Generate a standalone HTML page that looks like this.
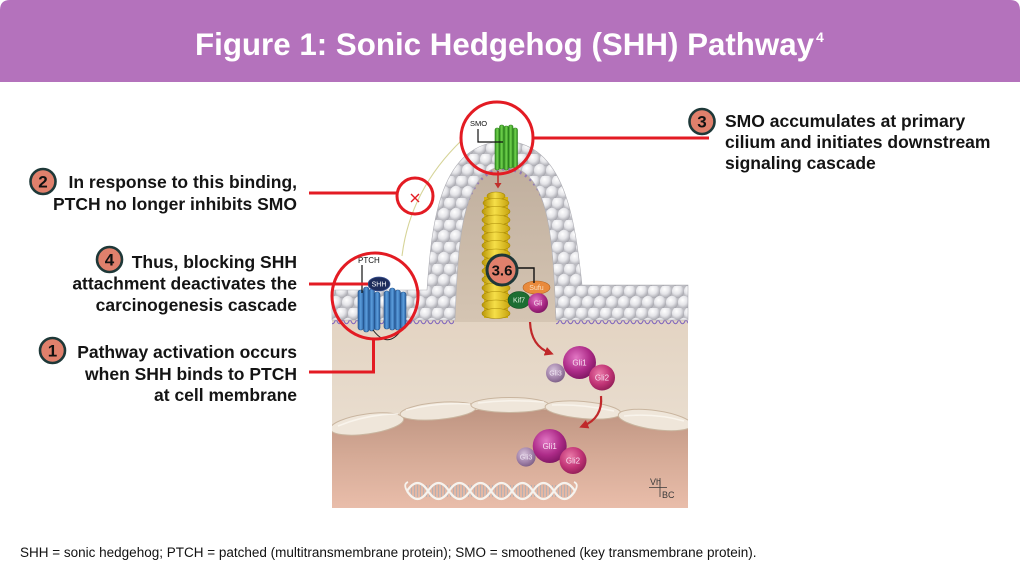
<!DOCTYPE html>
<html>
<head>
<meta charset="utf-8">
<style>
html,body{margin:0;padding:0;background:#fff;}
body{width:1020px;height:576px;overflow:hidden;}
svg{display:block;}
</style>
</head>
<body>
<svg width="1020" height="576" viewBox="0 0 1020 576" xmlns="http://www.w3.org/2000/svg" font-family="'Liberation Sans', Arial, sans-serif">
<defs>
  <linearGradient id="cyto" x1="0" y1="0" x2="0" y2="1">
    <stop offset="0" stop-color="#e2d2c0"/>
    <stop offset="1" stop-color="#ede4d8"/>
  </linearGradient>
  <linearGradient id="cil" x1="0" y1="0" x2="0" y2="1">
    <stop offset="0" stop-color="#bfae9d"/>
    <stop offset="1" stop-color="#d5c5b3"/>
  </linearGradient>
  <linearGradient id="nuc" x1="0" y1="0" x2="0" y2="1">
    <stop offset="0" stop-color="#bf9582"/>
    <stop offset="0.5" stop-color="#d6ab97"/>
    <stop offset="1" stop-color="#e9bdaa"/>
  </linearGradient>
  <radialGradient id="ballg" cx="0.38" cy="0.32" r="0.75">
    <stop offset="0" stop-color="#ffffff"/>
    <stop offset="0.5" stop-color="#e4e4e8"/>
    <stop offset="1" stop-color="#9a9aa2"/>
  </radialGradient>
  <pattern id="balls" width="12" height="22" patternUnits="userSpaceOnUse">
    <rect width="12" height="22" fill="#bcbcc2"/>
    <ellipse cx="6" cy="5.5" rx="6.1" ry="6.6" fill="url(#ballg)"/>
    <ellipse cx="0" cy="16.5" rx="6.1" ry="6.6" fill="url(#ballg)"/>
    <ellipse cx="12" cy="16.5" rx="6.1" ry="6.6" fill="url(#ballg)"/>
  </pattern>
  <pattern id="tails" x="0" y="318" width="7" height="9" patternUnits="userSpaceOnUse">
    <path d="M0 0.5 Q3.5 11 7 0.5" fill="none" stroke="#7d62bd" stroke-width="1.1"/>
  </pattern>
  <pattern id="rungs" width="3" height="20" patternUnits="userSpaceOnUse" x="407">
    <rect x="1" y="0" width="0.9" height="20" fill="#a8aeb8"/>
  </pattern>
  <linearGradient id="yel" x1="0" y1="0" x2="1" y2="0">
    <stop offset="0" stop-color="#b8950a"/>
    <stop offset="0.45" stop-color="#f6df48"/>
    <stop offset="1" stop-color="#c6a20e"/>
  </linearGradient>
  <linearGradient id="grn" x1="0" y1="0" x2="1" y2="0">
    <stop offset="0" stop-color="#2f8a1f"/>
    <stop offset="0.5" stop-color="#6fd24c"/>
    <stop offset="1" stop-color="#2f8a1f"/>
  </linearGradient>
  <linearGradient id="blu" x1="0" y1="0" x2="1" y2="0">
    <stop offset="0" stop-color="#2b62a3"/>
    <stop offset="0.5" stop-color="#5b9ddc"/>
    <stop offset="1" stop-color="#2b62a3"/>
  </linearGradient>
  <radialGradient id="gli1" cx="0.4" cy="0.35" r="0.7">
    <stop offset="0" stop-color="#e277c4"/>
    <stop offset="0.6" stop-color="#ad2b88"/>
    <stop offset="1" stop-color="#7c1560"/>
  </radialGradient>
  <radialGradient id="gli2" cx="0.4" cy="0.35" r="0.7">
    <stop offset="0" stop-color="#ea7aa8"/>
    <stop offset="0.6" stop-color="#c13476"/>
    <stop offset="1" stop-color="#8f1d55"/>
  </radialGradient>
  <radialGradient id="gli3" cx="0.4" cy="0.35" r="0.7">
    <stop offset="0" stop-color="#d6c2da"/>
    <stop offset="0.6" stop-color="#a283aa"/>
    <stop offset="1" stop-color="#7a5c84"/>
  </radialGradient>
  <marker id="ah" markerWidth="9" markerHeight="9" refX="5" refY="4.5" orient="auto" markerUnits="userSpaceOnUse">
    <path d="M0 0 L9 4.5 L0 9 Z" fill="#c0282a"/>
  </marker>
  <clipPath id="illus">
    <rect x="332" y="280" width="356" height="228"/>
  </clipPath>
</defs>

<!-- Header -->
<path d="M0 10 Q0 0 10 0 H1010 Q1020 0 1020 10 V82 H0 Z" fill="#b472bc"/>
<text x="195" y="55" font-size="31.3" font-weight="bold" fill="#ffffff">Figure 1: Sonic Hedgehog (SHH) Pathway<tspan font-size="14" dx="2" dy="-13">4</tspan></text>

<!-- Illustration background -->
<rect x="332" y="300" width="356" height="208" fill="url(#cyto)"/>
<path d="M452 322 C455 240 460 162 505 160 C552 162 556 240 558 322 Z" fill="url(#cil)"/>
<!-- nucleus -->
<g clip-path="url(#illus)">
<path d="M332 428 Q510 392 688 424 L688 508 L332 508 Z" fill="url(#nuc)"/>
<g fill="#efe6da" stroke="#c9b59f" stroke-width="1">
  <ellipse cx="367" cy="424" rx="37" ry="10" transform="rotate(-8 367 424)"/>
  <ellipse cx="438" cy="411" rx="38" ry="8.5" transform="rotate(-5 438 411)"/>
  <ellipse cx="510" cy="405" rx="39" ry="7.5"/>
  <ellipse cx="583" cy="410" rx="38" ry="8.5" transform="rotate(5 583 410)"/>
  <ellipse cx="655" cy="420" rx="37" ry="9.5" transform="rotate(8 655 420)"/>
</g>
<g fill="none" stroke="#fbf7f0" stroke-width="1.5" opacity="0.8">
  <path d="M338 426 Q367 414 398 414"/>
  <path d="M406 410 Q438 402 470 404"/>
  <path d="M478 403 Q510 399 544 402"/>
  <path d="M552 405 Q583 404 614 411"/>
  <path d="M624 416 Q655 413 684 421"/>
</g>
</g>

<!-- Purple tails -->
<rect x="332" y="318" width="122" height="9" fill="url(#tails)"/>
<rect x="556" y="318" width="132" height="9" fill="url(#tails)"/>
<path d="M453 318 C456 240 460 171 505 169 C552 171 556 240 557 318" fill="none" stroke="#7d62bd" stroke-width="3" stroke-dasharray="2 4" opacity="0.7"/>

<!-- Membrane -->
<path d="M332 290 L427 290 C432 220 440 143 505 141 C565 143 575 220 582 285 L688 285 L688 320 L556 320 C553 240 550 168 505 166 C462 168 458 240 455 320 L332 320 Z" fill="url(#balls)" stroke="#b0b0b6" stroke-width="0.6"/>

<!-- Yellow axoneme -->
<rect x="484" y="197" width="24" height="121" fill="#d6b314"/>
<g fill="url(#yel)" stroke="#a88a08" stroke-width="0.6">
  <ellipse cx="496" cy="196" rx="9" ry="4"/>
  <ellipse cx="496" cy="203" rx="13" ry="4.5"/>
  <ellipse cx="496" cy="211.5" rx="14" ry="5"/>
  <ellipse cx="496" cy="220" rx="14" ry="5"/>
  <ellipse cx="496" cy="228.5" rx="14" ry="5"/>
  <ellipse cx="496" cy="237" rx="14" ry="5"/>
  <ellipse cx="496" cy="245.5" rx="14" ry="5"/>
  <ellipse cx="496" cy="254" rx="14" ry="5"/>
  <ellipse cx="496" cy="262.5" rx="14" ry="5"/>
  <ellipse cx="496" cy="271" rx="14" ry="5"/>
  <ellipse cx="496" cy="279.5" rx="14" ry="5"/>
  <ellipse cx="496" cy="288" rx="14" ry="5"/>
  <ellipse cx="496" cy="296.5" rx="14" ry="5"/>
  <ellipse cx="496" cy="305" rx="14" ry="5"/>
  <ellipse cx="496" cy="313.5" rx="14" ry="5"/>
</g>

<!-- Green SMO -->
<g fill="url(#grn)" stroke="#2a7d1a" stroke-width="0.6">
  <rect x="495" y="128" width="4.5" height="42" rx="2"/>
  <rect x="499.5" y="125" width="4.5" height="44" rx="2"/>
  <rect x="504" y="126" width="4.5" height="44" rx="2"/>
  <rect x="508.5" y="125" width="4.5" height="43" rx="2"/>
  <rect x="513" y="128" width="4.5" height="40" rx="2"/>
</g>
<text x="470" y="126" font-size="7.5" fill="#111">SMO</text>
<path d="M478 129 V142 H503" fill="none" stroke="#111" stroke-width="1.2"/>

<!-- small red arrow -->
<line x1="498" y1="171" x2="498" y2="184" stroke="#c0302c" stroke-width="1.6"/>
<path d="M494.5 183 L501.5 183 L498 188.5 Z" fill="#c0302c"/>

<!-- Sufu / Kif7 / Gli -->
<ellipse cx="536.5" cy="287.5" rx="13.5" ry="6.5" fill="#e98a3c" stroke="#b5621e" stroke-width="0.6"/>
<text x="536.5" y="290" font-size="7" fill="#fbe0c0" text-anchor="middle">Sufu</text>
<ellipse cx="519" cy="300" rx="11" ry="8.5" fill="#1c6e32" stroke="#0f4a1e" stroke-width="0.6"/>
<text x="519" y="302.5" font-size="7" fill="#e6f5e6" text-anchor="middle">Kif7</text>
<circle cx="538" cy="303" r="10" fill="url(#gli1)"/>
<text x="538" y="305.5" font-size="7" fill="#f8e0f0" text-anchor="middle">Gli</text>

<!-- 3.6 badge -->
<path d="M518 268 H534 V283" fill="none" stroke="#111" stroke-width="1.4"/>
<circle cx="502" cy="270" r="15" fill="#e0806c" stroke="#1e3838" stroke-width="3"/>
<text x="502" y="275.5" font-size="15" font-weight="bold" fill="#111" text-anchor="middle">3.6</text>

<!-- arrows -->
<path d="M530 322 Q531 346 550 353" fill="none" stroke="#c0282a" stroke-width="2.2" marker-end="url(#ah)"/>
<path d="M601 396 Q603 418 583 426" fill="none" stroke="#c0282a" stroke-width="2.2" marker-end="url(#ah)"/>

<!-- Gli cluster 1 -->
<circle cx="555.5" cy="373" r="9.5" fill="url(#gli3)"/>
<text x="555.5" y="375.5" font-size="7" fill="#efe4f2" text-anchor="middle">Gli3</text>
<circle cx="579.5" cy="362.5" r="16.5" fill="url(#gli1)"/>
<text x="579.5" y="365.5" font-size="8" fill="#f8e0f0" text-anchor="middle">Gli1</text>
<circle cx="602" cy="377.5" r="13" fill="url(#gli2)"/>
<text x="602" y="380.5" font-size="8" fill="#f8e0f0" text-anchor="middle">Gli2</text>

<!-- Gli cluster 2 -->
<circle cx="526" cy="457" r="9.6" fill="url(#gli3)"/>
<text x="526" y="459.5" font-size="7" fill="#efe4f2" text-anchor="middle">Gli3</text>
<circle cx="549.7" cy="446" r="17" fill="url(#gli1)"/>
<text x="549.7" y="449" font-size="8" fill="#f8e0f0" text-anchor="middle">Gli1</text>
<circle cx="573" cy="460.5" r="13.5" fill="url(#gli2)"/>
<text x="573" y="463.5" font-size="8" fill="#f8e0f0" text-anchor="middle">Gli2</text>

<!-- DNA -->
<rect x="409" y="485" width="164" height="12" fill="url(#rungs)" opacity="0.85"/>
<path d="M407 491 q10.5 -16 21 0 t21 0 t21 0 t21 0 t21 0 t21 0 t21 0 t21 0" fill="none" stroke="#f6f3ee" stroke-width="2.2"/>
<path d="M407 491 q10.5 16 21 0 t21 0 t21 0 t21 0 t21 0 t21 0 t21 0 t21 0" fill="none" stroke="#f6f3ee" stroke-width="2.2"/>
<path d="M407 491 q-4 -7 1 -9 M575 491 q4 -7 -1 -9" fill="none" stroke="#f6f3ee" stroke-width="1.8"/>

<!-- signature -->
<text x="650" y="485" font-size="9" fill="#3a3a3a">Vh</text>
<text x="662" y="498" font-size="9" fill="#3a3a3a">BC</text>
<path d="M649 487.5 H667 M660 478 V497" stroke="#3a3a3a" stroke-width="0.8"/>

<!-- PTCH -->
<g fill="url(#blu)" stroke="#24548c" stroke-width="0.6">
  <rect x="358" y="290" width="5.5" height="40" rx="2.5"/>
  <rect x="363.5" y="287" width="5.5" height="45" rx="2.5"/>
  <rect x="369" y="289" width="5.5" height="42" rx="2.5"/>
  <rect x="374.5" y="292" width="5.5" height="38" rx="2.5"/>
  <rect x="384" y="291" width="5.5" height="38" rx="2.5"/>
  <rect x="389.5" y="288" width="5.5" height="42" rx="2.5"/>
  <rect x="395" y="290" width="5.5" height="40" rx="2.5"/>
  <rect x="400.5" y="292" width="5.5" height="37" rx="2.5"/>
</g>
<path d="M373 330 Q388 350 402 329" fill="none" stroke="#222" stroke-width="1"/>
<ellipse cx="379" cy="284" rx="11" ry="7" fill="#1e2d5c" stroke="#3d5596" stroke-width="0.8"/>
<text x="379" y="286.6" font-size="7" fill="#ffffff" text-anchor="middle">SHH</text>
<text x="358" y="263" font-size="8" fill="#111">PTCH</text>
<line x1="362" y1="265" x2="362" y2="293" stroke="#111" stroke-width="1.2"/>

<!-- olive arc -->
<path d="M462 140 Q410 190 402 256" fill="none" stroke="#d6d498" stroke-width="1.1"/>

<!-- Red circles and connectors -->
<g fill="none" stroke="#e31b23" stroke-width="3">
  <circle cx="497" cy="138" r="36"/>
  <circle cx="415" cy="196" r="18"/>
  <circle cx="375" cy="296" r="43"/>
  <line x1="309" y1="193" x2="398" y2="193"/>
  <line x1="309" y1="284" x2="368" y2="284"/>
  <path d="M309 372 H373.5 V339"/>
  <line x1="533" y1="138" x2="709" y2="138"/>
</g>
<path d="M411 194 L419 202 M419 194 L411 202" stroke="#e31b23" stroke-width="1.4"/>

<!-- Labels -->
<g font-size="17.5" font-weight="bold" fill="#141414">
  <text x="297" y="188" text-anchor="end">In response to this binding,</text>
  <text x="297" y="210" text-anchor="end">PTCH no longer inhibits SMO</text>

  <text x="297" y="268" text-anchor="end">Thus, blocking SHH</text>
  <text x="297" y="289.5" text-anchor="end">attachment deactivates the</text>
  <text x="297" y="311" text-anchor="end">carcinogenesis cascade</text>

  <text x="297" y="358" text-anchor="end">Pathway activation occurs</text>
  <text x="297" y="380" text-anchor="end">when SHH binds to PTCH</text>
  <text x="297" y="401" text-anchor="end">at cell membrane</text>

  <text x="725" y="127">SMO accumulates at primary</text>
  <text x="725" y="148">cilium and initiates downstream</text>
  <text x="725" y="169">signaling cascade</text>
</g>

<!-- Number badges -->
<g stroke="#1e3838" stroke-width="2.6" fill="#e0806c">
  <circle cx="43" cy="181.5" r="12.5"/>
  <circle cx="109.5" cy="259.5" r="12.5"/>
  <circle cx="52.5" cy="350.5" r="12.5"/>
  <circle cx="702" cy="121.5" r="12.5"/>
</g>
<g font-size="17" font-weight="bold" fill="#111" text-anchor="middle">
  <text x="43" y="187.5">2</text>
  <text x="109.5" y="265.5">4</text>
  <text x="52.5" y="356.5">1</text>
  <text x="702" y="127.5">3</text>
</g>

<!-- Footnote -->
<text x="20" y="557" font-size="13.5" fill="#111">SHH = sonic hedgehog; PTCH = patched (multitransmembrane protein); SMO = smoothened (key transmembrane protein).</text>
</svg>
</body>
</html>
